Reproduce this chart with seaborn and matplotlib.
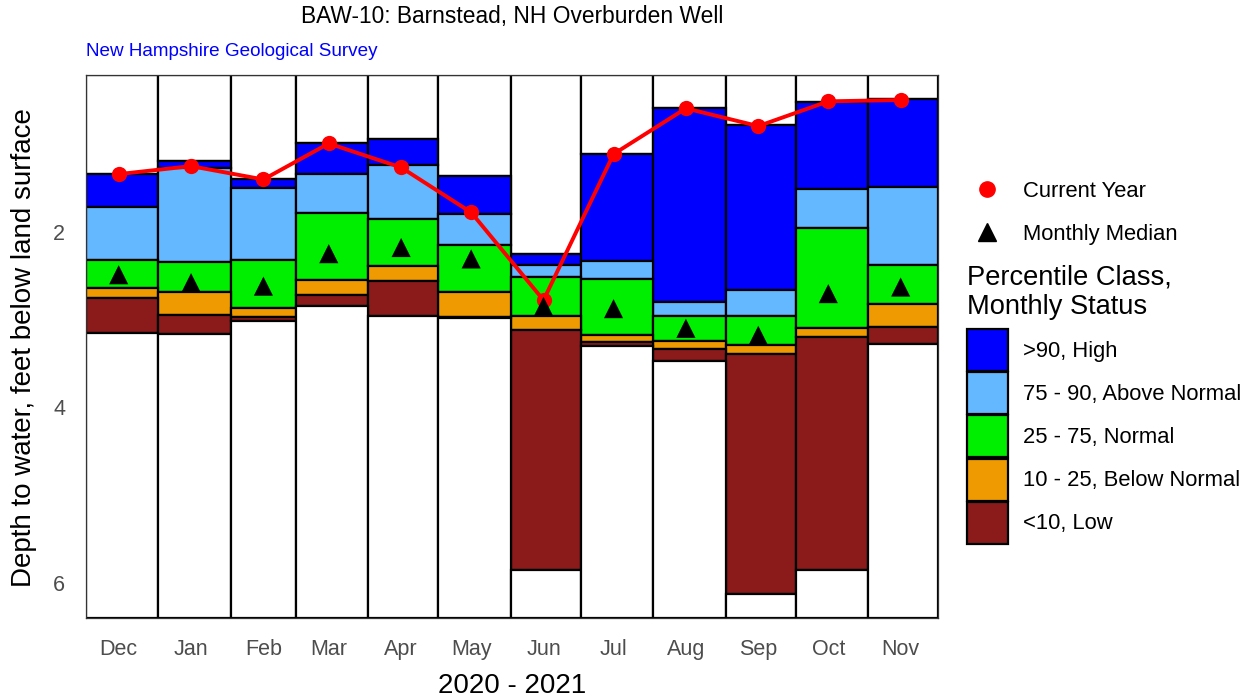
import numpy as np
import matplotlib
matplotlib.use("Agg")
import matplotlib.pyplot as plt
from matplotlib.patches import Patch
from matplotlib.lines import Line2D
import seaborn as sns

# months from Dec 2020 through Nov 2021
months = ["Dec", "Jan", "Feb", "Mar", "Apr", "May", "Jun", "Jul", "Aug", "Sep", "Oct", "Nov"]
days_in_month = [31, 31, 28, 31, 30, 31, 30, 31, 31, 30, 31, 30]

# percentile boundaries, depth to water (ft below land surface)
depth_max = [1.344, 1.19, 1.40, 0.987, 0.945, 1.363, 2.25, 1.116, 0.588, 0.79, 0.52, 0.493]
depth_p90 = [1.72, 1.27, 1.50, 1.344, 1.245, 1.80, 2.375, 2.336, 2.80, 2.667, 1.51, 1.496]
depth_p75 = [2.325, 2.344, 2.325, 1.785, 1.86, 2.155, 2.515, 2.54, 2.96, 2.955, 1.956, 2.375]
depth_p25 = [2.64, 2.69, 2.865, 2.553, 2.393, 2.69, 2.955, 3.18, 3.245, 3.294, 3.097, 2.82]
depth_p10 = [2.76, 2.945, 2.97, 2.716, 2.56, 2.97, 3.12, 3.26, 3.34, 3.39, 3.20, 3.08]
depth_min = [3.154, 3.169, 3.017, 2.85, 2.956, 2.985, 5.85, 3.30, 3.47, 6.13, 5.85, 3.275]

monthly_median = [2.49, 2.58, 2.62, 2.25, 2.18, 2.31, 2.85, 2.876, 3.10, 3.18, 2.705, 2.63]
current_year = [1.344, 1.253, 1.405, 0.995, 1.268, 1.78, 2.78, 1.116, 0.595, 0.797, 0.515, 0.50]

class_labels = [">90, High", "75 - 90, Above Normal", "25 - 75, Normal",
                "10 - 25, Below Normal", "<10, Low"]
class_colors = ["#0000FF", "#63B8FF", "#00EE00", "#EE9A00", "#8B1A1A"]

y_top, y_bottom = 0.215, 6.40

sns.set_theme(style="white")
plt.rcParams['font.family'] = ['Liberation Sans', 'DejaVu Sans']
plt.rcParams['text.color'] = 'black'

fig = plt.figure(figsize=(12.51, 7), dpi=100)
ax = fig.add_axes([86 / 1251, 1 - 618 / 700, 852 / 1251, (618 - 75) / 700])

starts = np.concatenate([[0], np.cumsum(days_in_month)[:-1]])
mid15 = starts + 14  # 15th of each month

# stacked segments from top of axis down to bottom
bounds = [np.full(12, y_top), depth_max, depth_p90, depth_p75, depth_p25,
          depth_p10, depth_min, np.full(12, y_bottom)]
seg_colors = ["white"] + class_colors + ["white"]
for i, col in enumerate(seg_colors):
    upper = np.asarray(bounds[i], dtype=float)
    lower = np.asarray(bounds[i + 1], dtype=float)
    ax.bar(starts, lower - upper, bottom=upper, width=days_in_month, align="edge",
           color=col, edgecolor="black", linewidth=1.6, zorder=2)

sns.lineplot(x=mid15, y=current_year, color="red", linewidth=2.8, marker="o",
             markersize=11, markeredgewidth=0, ax=ax, zorder=4)
sns.scatterplot(x=mid15, y=monthly_median, marker="^", s=190, color="black",
                edgecolor="none", ax=ax, zorder=5)

ax.set_xlim(0, sum(days_in_month))
ax.set_ylim(y_bottom, y_top)
ax.set_xticks(mid15)
ax.set_xticklabels(months)
ax.set_yticks([2, 4, 6])
ax.tick_params(axis="both", length=0, labelsize=15.5, labelcolor="#4D4D4D")
ax.tick_params(axis="x", pad=15)
ax.tick_params(axis="y", pad=15)
ax.set_xlabel("")
ax.set_ylabel("")
for sp in ax.spines.values():
    sp.set_color("#333333")
    sp.set_linewidth(0.9)

fig.text(24 / 1251, 1 - 348 / 700, "Depth to water, feet below land surface",
         rotation=90, ha="center", va="center", fontsize=20)
fig.text(512 / 1251, 1 - 686 / 700, "2020 - 2021", ha="center", va="center", fontsize=20)
fig.text(512 / 1251, 1 - 17 / 700, "BAW-10: Barnstead, NH Overburden Well",
         ha="center", va="center", fontsize=16.4)
fig.text(86 / 1251, 1 - 51 / 700, "New Hampshire Geological Survey",
         ha="left", va="center", fontsize=13.6, color="blue")

point_handles = [
    Line2D([], [], linestyle="none", marker="o", color="red", markersize=11),
    Line2D([], [], linestyle="none", marker="^", color="black", markersize=13),
]
leg1 = fig.legend(point_handles, ["Current Year", "Monthly Median"],
                  loc="upper left", bbox_to_anchor=(967 / 1251, 1 - 181 / 700),
                  frameon=False, fontsize=15.8, handlelength=1.83, handletextpad=0.7,
                  labelspacing=1.0, borderpad=0, borderaxespad=0)

# legend title for the percentile classes
fig.text(967 / 1251, 1 - 264 / 700, "Percentile Class,\nMonthly Status",
         ha="left", va="top", fontsize=19.6)

patch_handles = [Patch(facecolor=c, edgecolor="black", linewidth=1.6) for c in class_colors]
leg2 = fig.legend(patch_handles, class_labels,
                  loc="upper left", bbox_to_anchor=(967 / 1251, 1 - 329 / 700),
                  frameon=False, fontsize=15.8,
                  handlelength=1.87, handleheight=2.574, handletextpad=0.68,
                  labelspacing=0.05, borderpad=0, borderaxespad=0)

fig.savefig("out.png", dpi=100)
